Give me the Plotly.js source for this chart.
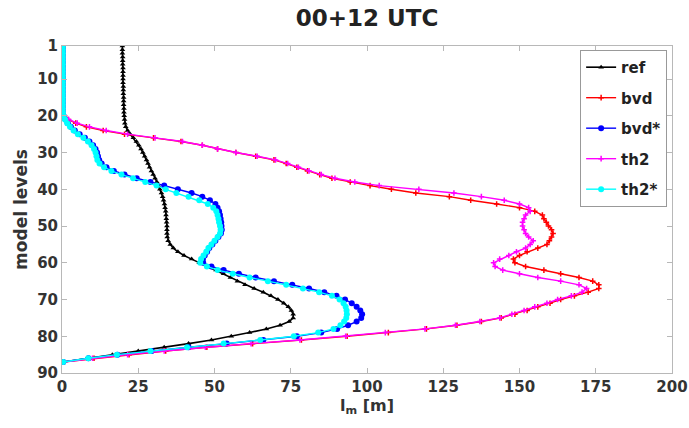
<!DOCTYPE html>
<html>
<head>
<meta charset="utf-8">
<script src="https://cdn.plot.ly/plotly-3.0.1.min.js"></script>
<style>html,body{margin:0;padding:0;background:#fff;}#chart{width:689px;height:428px;}</style>
</head>
<body>
<div id="chart"></div>
<script>
// model levels 1..87
const levels = [];
for (let i = 1; i <= 87; i++) levels.push(i);

const xTicks = [0, 25, 50, 75, 100, 125, 150, 175, 200];
const yTicks = [1, 10, 20, 30, 40, 50, 60, 70, 80, 90];

const ref = [19.8,19.8,19.8,19.9,19.9,19.9,20,20,20,20,20,20.1,20.1,20.1,20.2,20.2,20.2,20.3,20.3,20.4,
  20.5,20.6,20.9,21.5,22.4,23.4,24.4,25.2,25.9,26.5,27.1,27.7,28.2,28.7,29.3,29.9,30.5,31.1,31.6,32.1,
  32.6,33,33.3,33.6,33.8,34,34.1,34.2,34.3,34.4,34.4,34.4,34.5,34.8,35.5,36.5,38,40,42.5,45,
  48,50.5,53,55.2,57.5,60,63,66,68.5,70.8,72.7,74.2,75.2,75.8,75.8,74.5,71.5,67,61.5,55.5,
  49,41.5,33.5,25,16.5,8.2,0.3];

const bvd = [0.2,0.2,0.2,0.2,0.2,0.2,0.2,0.2,0.2,0.2,0.2,0.2,0.2,0.2,0.2,0.2,0.2,0.2,0.2,0.8,
  2,4.5,8,13.5,20.5,30,39,46,51,57,63.5,69.5,73.5,77,80.5,84.5,88.5,94.5,101,108,
  116,127,134,142.5,150,155,157.5,158,158.8,159.5,160.5,161,160.5,159.8,159,156,152.5,150,148,148.5,
  152,158,163.5,169.5,174,176,176,172.5,168,163.5,160,156,152.5,148.5,144,137.5,129.5,119.5,107,93.5,
  78.5,62.5,47.5,34,22,10.5,0.4];

const bvdStar = [0.3,0.3,0.3,0.3,0.3,0.3,0.3,0.3,0.3,0.3,0.3,0.3,0.3,0.3,0.3,0.3,0.3,0.3,0.3,0.5,
  1.1,1.9,2.9,4.2,5.8,7.5,9,10.2,11,11.5,11.8,12.2,13,14.6,17,20.5,24.5,29,33.5,38,
  42.5,46,48.5,50.3,51,51.5,51.8,52,52.2,52.3,52.4,52.1,51.3,50.3,49.3,48.3,47.6,46.8,46.2,46.3,
  49,53,58,63.5,69.5,75.5,81,86,90,92.8,95,96.6,97.8,98.4,98.1,96.6,93.8,90.2,85,77,
  66,54,41.5,29.4,18.2,8.7,0.4];

const th2 = [0.2,0.2,0.2,0.2,0.2,0.2,0.2,0.2,0.2,0.2,0.2,0.2,0.2,0.2,0.2,0.2,0.2,0.2,0.2,0.8,
  2.2,5,9,14.5,21.5,30.5,39.5,46,51,57,64,70,74,77.5,81,85,89.5,96,104,117,
  128.5,137.5,145,150,153,153.5,152,151.5,151,151,151.5,152,153,154.5,153.5,152,149,146.5,143.5,141.5,
  142,144.5,150,156,163.5,169.5,172,170.5,167,162.5,159,155,151.5,147.5,143.5,137,129,119,106,93,
  78,62,47,33.5,21.5,10,0.4];

const th2Star = [0.3,0.3,0.3,0.3,0.3,0.3,0.3,0.3,0.3,0.3,0.3,0.3,0.3,0.3,0.3,0.3,0.3,0.3,0.3,0.5,
  1,1.7,2.6,3.8,5.2,7,8.5,9.7,10.5,11,11.3,11.6,12.3,13.8,16.2,19.5,23.3,27.3,31,34,
  37.5,41.5,45,47.8,49.6,50.6,51,51.3,51.5,51.8,52,51.8,51,50,49,48,47.3,46.4,45.6,45.3,
  47.5,51,56,61.5,67.5,73.5,79,84.3,88.5,91,92.3,93,93.3,93.4,93.2,92.5,91.3,89,84,76,
  65,53,41,29,18,8.6,0.4];

const FONT = 'DejaVu Sans, Arial, sans-serif';

function tr(name, x, color, symbol, size, lw) {
  const m = {symbol: symbol, size: size, color: color};
  if (symbol.indexOf('thin') >= 0) m.line = {color: color, width: 1.5};
  return {
    type: 'scatter', mode: 'lines+markers', name: name, legendgroup: name,
    x: x, y: levels,
    line: {color: color, width: lw},
    marker: m
  };
}

const data = [
  tr('ref', ref, '#000000', 'triangle-up', 5, 1.6),
  tr('bvd', bvd, '#ff0000', 'cross-thin', 4, 1.4),
  tr('bvd*', bvdStar, '#0000ff', 'circle', 6, 1.4),
  tr('th2', th2, '#ff00ff', 'cross-thin', 4, 1.4),
  tr('th2*', th2Star, '#00ffff', 'circle', 6, 1.4)
];

const axisCommon = {
  showline: true, linecolor: '#b8b8b8', linewidth: 1, mirror: 'allticks',
  ticks: 'inside', ticklen: 5, tickcolor: '#b8b8b8', tickwidth: 1,
  showgrid: false, zeroline: false,
  tickfont: {family: FONT, size: 15, color: '#333333', weight: 'bold'}
};

const layout = {
  width: 689, height: 428,
  margin: {l: 62, r: 17, t: 46, b: 55},
  paper_bgcolor: '#ffffff', plot_bgcolor: '#ffffff',
  font: {family: FONT, color: '#222222'},
  title: {text: '00+12 UTC', font: {family: FONT, size: 23, color: '#222222', weight: 'bold'},
          x: 0.5, xref: 'paper', xanchor: 'center', y: 0.958, yref: 'container', yanchor: 'middle'},
  xaxis: Object.assign({}, axisCommon, {
    range: [0, 200], tickvals: xTicks, ticktext: xTicks.map(String),
    title: {text: 'l<sub>m</sub> [m]', font: {family: FONT, size: 16, color: '#333333', weight: 'bold'}, standoff: 4}
  }),
  yaxis: Object.assign({}, axisCommon, {
    range: [90, 1], tickvals: yTicks, ticktext: yTicks.map(String),
    title: {text: 'model levels', font: {family: FONT, size: 17, color: '#333333', weight: 'bold'}, standoff: 5}
  }),
  legend: {
    x: 0.992, y: 0.988, xanchor: 'right', yanchor: 'top',
    bgcolor: '#ffffff', bordercolor: '#999999', borderwidth: 1,
    font: {family: FONT, size: 15, color: '#222222', weight: 'bold'},
    tracegroupgap: 8, itemwidth: 30
  },
  showlegend: true
};

Plotly.newPlot('chart', data, layout, {displayModeBar: false, staticPlot: true});
</script>
</body>
</html>
